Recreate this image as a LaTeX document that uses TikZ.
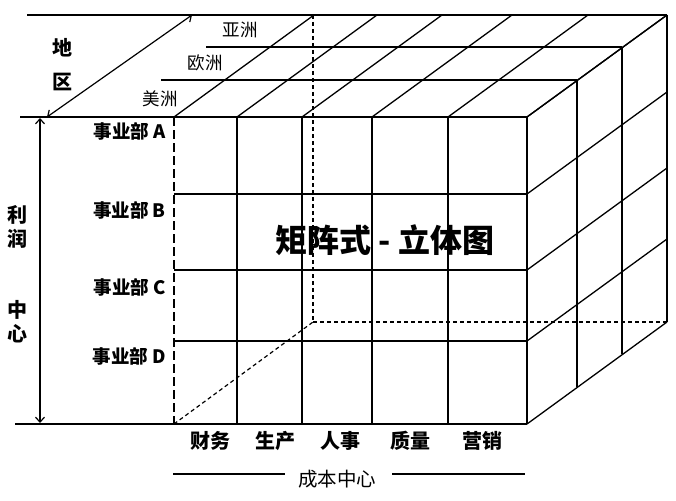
\documentclass[tikz,border=0pt]{standalone}
\usepackage{fontspec}
\setmainfont{Noto Sans CJK SC}
\usetikzlibrary{positioning,arrows.meta}

\tikzset{
  edge/.style={line width=1.3pt},
  hidden/.style={line width=1.2pt, dash pattern=on 4pt off 3pt},
  hiddenlong/.style={line width=1.2pt, dash pattern=on 9pt off 4pt},
  dimline/.style={line width=1.2pt, {Straight Barb[length=5pt,width=9pt]}-{Straight Barb[length=5pt,width=9pt]}},
  deptlabel/.style={font=\bfseries\fontsize{18.5}{18.5}\selectfont, anchor=east, inner sep=0pt},
  costlabel/.style={font=\bfseries\fontsize{20}{20}\selectfont, inner sep=0pt},
  regionlabel/.style={font=\fontsize{17.5}{17.5}\selectfont, inner sep=0pt},
  sidelabel/.style={font=\bfseries\fontsize{20}{20}\selectfont, inner sep=0pt}
}

\begin{document}
\begin{tikzpicture}[x=1pt, y=-1pt]
    \useasboundingbox (0,0) rectangle (676,500);

    % cube corners
    \coordinate (ftl) at (174,117);
    \coordinate (fbl) at (174,424);
    \coordinate (btl) at (313,15);
    \coordinate (bbl) at (313,322);
    \coordinate (bbr) at (667,322);

    % front face
    \draw[hiddenlong] (ftl) -- (fbl);
    \foreach \x in {237,302,372,448,527}
      \draw[edge] (\x,117) -- (\x,424);
    \foreach \y in {194,270,341}
      \draw[edge] (174,\y) -- (527,\y);
    \draw[edge] (20,117) -- (527,117);
    \draw[edge] (15,424) -- (527,424);

    % top face
    \foreach \x in {174,237,302,372,448,527}
      \draw[edge] (\x,117) -- ++(140,-102);
    \draw[edge] (161,80) -- (577,80);
    \draw[edge] (206,47) -- (622,47);
    \draw[edge] (27,15) -- (667,15);

    % right face
    \draw[edge] (577,80) -- (577,387);
    \draw[edge] (622,47) -- (622,354);
    \draw[edge] (667,15) -- (667,322);
    \foreach \y in {117,194,270,341,424}
      \draw[edge] (527,\y) -- ++(140,-102);

    % hidden edges
    \draw[hidden] (fbl) -- (bbl);
    \draw[hidden] (btl) -- (bbl);
    \draw[hidden] (bbl) -- (bbr);

    % dimension arrows
    \coordinate (r0) at (47,117);
    \coordinate (r1) at (192,15);
    \draw[dimline] (r0) -- (r1);
    \coordinate (p0) at (40,118);
    \coordinate (p1) at (40,423);
    \draw[dimline] (p0) -- (p1);

    % regions
    \node[regionlabel] (asia) at (240,30) {亚洲};
    \node[regionlabel] (europe) at (205,63) {欧洲};
    \node[regionlabel] (america) at (160,99) {美洲};
    \node[sidelabel] (di) at (62,48) {地};
    \node[sidelabel] (qu) at (62,82) {区};

    % profit centres
    \node[sidelabel] (li) at (18,215) {利};
    \node[sidelabel] (run) at (18,239) {润};
    \node[sidelabel] (zhong) at (18,310) {中};
    \node[sidelabel] (xin) at (18,334) {心};
    \node[deptlabel] (deptA) at (166,131) {事业部 A};
    \node[deptlabel] (deptB) at (166,210) {事业部 B};
    \node[deptlabel] (deptC) at (166,287) {事业部 C};
    \node[deptlabel] (deptD) at (166,356) {事业部 D};

    % cost centres
    \node[costlabel] (finance) at (210,441) {财务};
    \node[costlabel] (production) at (275,441) {生产};
    \node[costlabel] (hr) at (340,441) {人事};
    \node[costlabel] (quality) at (410,441) {质量};
    \node[costlabel] (sales) at (482,441) {营销};
    \node[regionlabel, font=\fontsize{19.5}{19.5}\selectfont] (cost) at (337,479) {成本中心};
    \coordinate (cl) at (173,474);
    \coordinate (cr) at (525,474);
    \draw[edge] (cl) -- (285,474);
    \draw[edge] (392,474) -- (cr);

    % title
    \node[font=\bfseries\fontsize{32}{32}\selectfont, inner sep=0pt] (title) at (385,240) {矩阵式 - 立体图};
\end{tikzpicture}
\end{document}
